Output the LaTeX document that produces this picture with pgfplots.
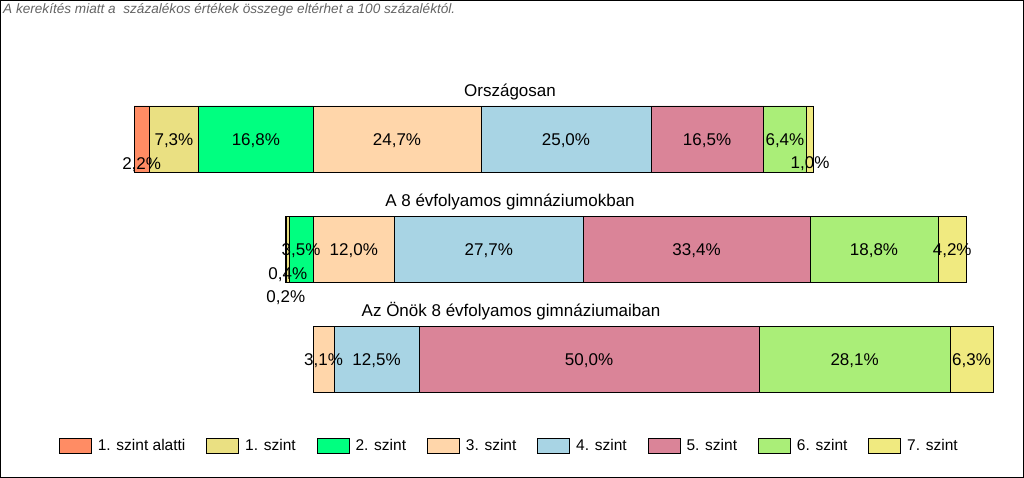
\documentclass[border=0pt]{standalone}
\usepackage{pgfplots}
\pgfplotsset{compat=1.18}
\usepackage{fontspec}
\setmainfont{Liberation Sans}
\definecolor{c0}{RGB}{255,140,100}
\definecolor{c1}{RGB}{234,224,130}
\definecolor{c2}{RGB}{0,255,128}
\definecolor{c3}{RGB}{255,214,170}
\definecolor{c4}{RGB}{168,212,228}
\definecolor{c5}{RGB}{218,132,152}
\definecolor{c6}{RGB}{170,238,120}
\definecolor{c7}{RGB}{240,234,128}
\definecolor{notegray}{RGB}{100,100,100}
\pgfplotsset{
  lv/.style={fill=#1, draw=black, line width=0.8pt,
    legend image code/.code={\draw[##1] (0pt,-7.5pt) rectangle (32pt,7.5pt);}},
}
\tikzset{lab/.style={anchor=base, yshift=-6.1pt, inner sep=0pt, font=\fontsize{17}{20}\selectfont}}
\begin{document}
\begin{tikzpicture}
\path[use as bounding box] (0pt,0pt) rectangle (1024pt,478pt);
% x axis: 0 = left edge of axis area; the 3. szint level starts at x = 40
\begin{axis}[at={(41pt,0pt)}, anchor=south west, scale only axis,
  width=958.8pt, height=478pt, xmin=0, xmax=141, ymin=0, ymax=478,
  axis lines=none, xtick=\empty, ytick=\empty, xbar stacked, bar width=66pt, clip=false,
  legend columns=8,
  legend style={draw=none, fill=none, at={(axis cs:2.65,32)}, anchor=west,
    inner sep=0pt, outer sep=0pt, font=\fontsize{15.5}{18}\selectfont,
    nodes={inner sep=0pt, outer sep=0pt},
    /tikz/every odd column/.append style={column sep=6pt},
    /tikz/every even column/.append style={column sep=21pt}},
  after end axis/.code={
    % row 1 labels
    \node[lab] at (axis cs:14.8,315) {2,2\%};
    \node[lab] at (axis cs:19.55,339) {7,3\%};
    \node[lab] at (axis cs:31.6,339) {16,8\%};
    \node[lab] at (axis cs:52.35,339) {24,7\%};
    \node[lab] at (axis cs:77.2,339) {25,0\%};
    \node[lab] at (axis cs:97.95,339) {16,5\%};
    \node[lab] at (axis cs:109.4,339) {6,4\%};
    \node[lab] at (axis cs:113.1,315.5) {1,0\%};
    % row 2 labels
    \node[lab] at (axis cs:36.0,182) {0,2\%};
    \node[lab] at (axis cs:36.3,204.5) {0,4\%};
    \node[lab] at (axis cs:38.25,228.5) {3,5\%};
    \node[lab] at (axis cs:46.0,228.5) {12,0\%};
    \node[lab] at (axis cs:65.85,228.5) {27,7\%};
    \node[lab] at (axis cs:96.4,228.5) {33,4\%};
    \node[lab] at (axis cs:122.5,228.5) {18,8\%};
    \node[lab] at (axis cs:134.0,228.5) {4,2\%};
    % row 3 labels
    \node[lab] at (axis cs:41.55,118.5) {3,1\%};
    \node[lab] at (axis cs:49.35,118.5) {12,5\%};
    \node[lab] at (axis cs:80.6,118.5) {50,0\%};
    \node[lab] at (axis cs:119.65,118.5) {28,1\%};
    \node[lab] at (axis cs:136.85,118.5) {6,3\%};
  },
]
% invisible offset: 40 minus the sum of the levels below 3. szint
\addplot[draw=none, fill=none, forget plot] coordinates {(13.7,339) (35.9,228.5) (40,118.5)};
\addplot[lv=c0] coordinates {(2.2,339) (0.2,228.5) (0,118.5)};
\addlegendentry{1. szint alatti}
\addplot[lv=c1] coordinates {(7.3,339) (0.4,228.5) (0,118.5)};
\addlegendentry{1. szint}
\addplot[lv=c2] coordinates {(16.8,339) (3.5,228.5) (0,118.5)};
\addlegendentry{2. szint}
\addplot[lv=c3] coordinates {(24.7,339) (12.0,228.5) (3.1,118.5)};
\addlegendentry{3. szint}
\addplot[lv=c4] coordinates {(25.0,339) (27.7,228.5) (12.5,118.5)};
\addlegendentry{4. szint}
\addplot[lv=c5] coordinates {(16.5,339) (33.4,228.5) (50.0,118.5)};
\addlegendentry{5. szint}
\addplot[lv=c6] coordinates {(6.4,339) (18.8,228.5) (28.1,118.5)};
\addlegendentry{6. szint}
\addplot[lv=c7] coordinates {(1.0,339) (4.2,228.5) (6.3,118.5)};
\addlegendentry{7. szint}
\end{axis}
\node[anchor=base, inner sep=0pt, font=\fontsize{17}{20}\selectfont] at (510pt,381.5pt) {Országosan};
\node[anchor=base, inner sep=0pt, font=\fontsize{17}{20}\selectfont] at (510pt,271.5pt) {A 8 évfolyamos gimnáziumokban};
\node[anchor=base, inner sep=0pt, font=\fontsize{17}{20}\selectfont] at (511pt,161.5pt) {Az Önök 8 évfolyamos gimnáziumaiban};
\node[anchor=base west, inner sep=0pt, text=notegray, font=\fontsize{13.6}{16}\selectfont\itshape] at (3pt,464.7pt) {A kerekítés miatt a\ \ százalékos értékek összege eltérhet a 100 százaléktól.};
\draw[black, line width=1pt] (0.5pt,0.5pt) rectangle (1023.5pt,477.5pt);
\end{tikzpicture}
\end{document}
